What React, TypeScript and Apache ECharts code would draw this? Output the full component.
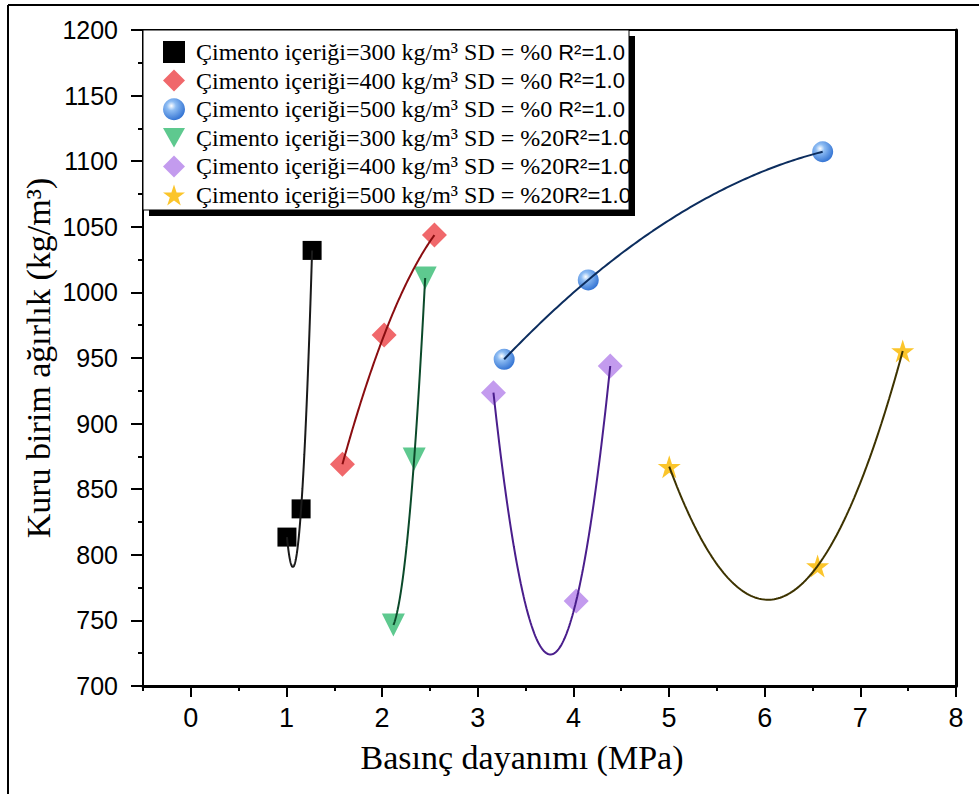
import React, { useEffect, useRef } from "react";
import * as echarts from "echarts";

// ---------- data ----------
const legendMain = [
  "Çimento içeriği=300 kg/m³ SD = %0 ",
  "Çimento içeriği=400 kg/m³ SD = %0 ",
  "Çimento içeriği=500 kg/m³ SD = %0 ",
  "Çimento içeriği=300 kg/m³ SD = %20",
  "Çimento içeriği=400 kg/m³ SD = %20",
  "Çimento içeriği=500 kg/m³ SD = %20",
];
const legendR = "R²=1.0";

const x300_0 = [1.005, 1.153, 1.268];
const y300_0 = [813.5, 835, 1032];
const x400_0 = [1.585, 2.021, 2.547];
const y400_0 = [869, 967.5, 1043.7];
const x500_0 = [3.276, 4.155, 6.606];
const y500_0 = [949, 1009.5, 1107.2];
const x300_20 = [2.118, 2.335, 2.45];
const y300_20 = [746.5, 873, 1011];
const x400_20 = [3.164, 4.029, 4.385];
const y400_20 = [923.6, 764.8, 943.9];
const x500_20 = [5.002, 6.553, 7.443];
const y500_20 = [867.2, 791.5, 955.3];

const xTickLabels = [0, 1, 2, 3, 4, 5, 6, 7, 8];

// ---------- styles ----------
const STAR =
  "path://M50 0 L61.2 34.5 L97.6 34.5 L68.2 55.9 L79.4 90.5 L50 69.1 L20.6 90.5 L31.8 55.9 L2.4 34.5 L38.8 34.5 Z";
const TRI_DOWN = "path://M0 0 L100 0 L50 88 Z";

const sphere = new echarts.graphic.RadialGradient(0.38, 0.35, 0.7, [
  { offset: 0, color: "#ffffff" },
  { offset: 0.3, color: "#8dbcf3" },
  { offset: 1, color: "#2e6fd1" },
]);

const seriesDefs = [
  { xs: x300_0, ys: y300_0, symbol: "rect", size: 19, color: "#000000", line: "#1a1a1a" },
  { xs: x400_0, ys: y400_0, symbol: "diamond", size: 25, color: "#f0686b", line: "#8a0d10" },
  { xs: x500_0, ys: y500_0, symbol: "circle", size: 21, color: sphere, line: "#0c2d5e" },
  { xs: x300_20, ys: y300_20, symbol: TRI_DOWN, size: 23, color: "#5ec98f", line: "#0b4a2a" },
  { xs: x400_20, ys: y400_20, symbol: "diamond", size: 25, color: "#c39bee", line: "#4a1e8c" },
  { xs: x500_20, ys: y500_20, symbol: STAR, size: 23, color: "#fbc52b", line: "#3d3300" },
];

// quadratic fit through the three points (R² = 1.0)
function quadFit(xs: number[], ys: number[], n = 120): number[][] {
  const f = (x: number) => {
    let s = 0;
    for (let i = 0; i < 3; i++) {
      let p = ys[i];
      for (let j = 0; j < 3; j++) if (j !== i) p *= (x - xs[j]) / (xs[i] - xs[j]);
      s += p;
    }
    return s;
  };
  const lo = Math.min(...xs);
  const hi = Math.max(...xs);
  const out: number[][] = [];
  for (let k = 0; k <= n; k++) {
    const x = lo + ((hi - lo) * k) / n;
    out.push([x, f(x)]);
  }
  return out;
}

export default function App() {
  const ref = useRef<HTMLDivElement>(null);

  useEffect(() => {
    if (!ref.current) return;
    const chart = echarts.init(ref.current, undefined, { renderer: "svg" });
    const names = legendMain.map((m) => m + legendR);

    const series: any[] = [];
    seriesDefs.forEach((d, i) => {
      series.push({
        name: names[i],
        type: "scatter",
        xAxisIndex: 0,
        yAxisIndex: 0,
        data: d.xs.map((x, k) => [x, d.ys[k]]),
        symbol: d.symbol,
        symbolSize: d.size,
        itemStyle: { color: d.color, opacity: 1 },
        z: 2,
      });
    });
    seriesDefs.forEach((d, i) => {
      series.push({
        name: names[i] + " fit",
        type: "line",
        xAxisIndex: 0,
        yAxisIndex: 0,
        data: quadFit(d.xs, d.ys),
        symbol: "none",
        showSymbol: false,
        silent: true,
        lineStyle: { color: d.line, width: 2 },
        z: 3,
      });
    });

    chart.setOption({
      animation: false,
      backgroundColor: "#ffffff",
      grid: { left: 143, right: 23, top: 30, bottom: 108, containLabel: false },
      xAxis: [
        {
          type: "value",
          position: "bottom",
          min: -0.5,
          max: 8,
          splitLine: { show: false },
          axisLine: { show: true, onZero: false, lineStyle: { color: "#000", width: 3 } },
          axisTick: { show: true, customValues: xTickLabels, length: 11, lineStyle: { color: "#000", width: 2 } },
          axisLabel: {
            show: true,
            customValues: xTickLabels,
            margin: 18,
            color: "#000",
            fontSize: 27,
            fontFamily: "'Liberation Sans Narrow', 'Liberation Sans', Arial, sans-serif",
          },
        },
        {
          type: "value",
          position: "bottom",
          min: -0.5,
          max: 8,
          interval: 0.5,
          splitLine: { show: false },
          axisLine: { show: false, onZero: false },
          axisTick: { show: true, length: 5, lineStyle: { color: "#000", width: 2 } },
          axisLabel: { show: false },
        },
        {
          type: "value",
          position: "top",
          min: -0.5,
          max: 8,
          splitLine: { show: false },
          axisLine: { show: true, onZero: false, lineStyle: { color: "#000", width: 2 } },
          axisTick: { show: false },
          axisLabel: { show: false },
        },
      ],
      yAxis: [
        {
          type: "value",
          position: "left",
          min: 700,
          max: 1200,
          interval: 50,
          splitLine: { show: false },
          axisLine: { show: true, onZero: false, lineStyle: { color: "#000", width: 2 } },
          axisTick: { show: true, length: 12, lineStyle: { color: "#000", width: 2 } },
          minorTick: { show: true, splitNumber: 2, length: 5, lineStyle: { color: "#000", width: 2 } },
          axisLabel: {
            margin: 25,
            color: "#000",
            fontSize: 25,
            fontFamily: "'Liberation Sans', Arial, sans-serif",
            formatter: (v: number) => String(v),
          },
        },
        {
          type: "value",
          position: "right",
          min: 700,
          max: 1200,
          splitLine: { show: false },
          axisLine: { show: true, onZero: false, lineStyle: { color: "#000", width: 3 } },
          axisTick: { show: false },
          axisLabel: { show: false },
        },
      ],
      legend: {
        data: names,
        orient: "vertical",
        left: 158,
        top: 35,
        itemWidth: 22,
        itemHeight: 22,
        itemGap: 4.6,
        z: 10,
        selectedMode: false,
        formatter: (n: string) => {
          const i = names.indexOf(n);
          return `{a|${legendMain[i]}}{b|${legendR}}`;
        },
        textStyle: {
          rich: {
            a: {
              fontFamily: "'Liberation Serif', 'Times New Roman', serif",
              fontSize: 24,
              color: "#000",
              padding: [0, 0, 0, 6],
            },
            b: {
              fontFamily: "'Liberation Sans', Arial, sans-serif",
              fontSize: 22,
              color: "#000",
            },
          },
        },
      },
      graphic: [
        { type: "line", shape: { x1: 8, y1: 5, x2: 979, y2: 5 }, style: { stroke: "#000", lineWidth: 2 }, z: 1 },
        { type: "line", shape: { x1: 8, y1: 5, x2: 8, y2: 794 }, style: { stroke: "#000", lineWidth: 2 }, z: 1 },
        { type: "rect", shape: { x: 149, y: 36, width: 486, height: 180 }, style: { fill: "#000" }, z: 5 },
        {
          type: "rect",
          shape: { x: 143, y: 30, width: 486, height: 180 },
          style: { fill: "#fff", stroke: "#000", lineWidth: 1 },
          z: 6,
        },
        {
          type: "text",
          x: 522,
          y: 757,
          z: 6,
          style: {
            text: "Basınç dayanımı (MPa)",
            fill: "#000",
            fontSize: 34,
            fontFamily: "'Liberation Serif', 'Times New Roman', serif",
            align: "center",
            verticalAlign: "middle",
          },
        },
        {
          type: "text",
          x: 38,
          y: 358,
          rotation: Math.PI / 2,
          z: 6,
          style: {
            text: "Kuru birim ağırlık (kg/m³)",
            fill: "#000",
            fontSize: 34,
            fontFamily: "'Liberation Serif', 'Times New Roman', serif",
            align: "center",
            verticalAlign: "middle",
          },
        },
      ],
      series,
    });

    return () => chart.dispose();
  }, []);

  return (
    <div
      ref={ref}
      style={{ position: "absolute", left: 0, top: 0, width: 979, height: 794, background: "#fff" }}
    />
  );
}
